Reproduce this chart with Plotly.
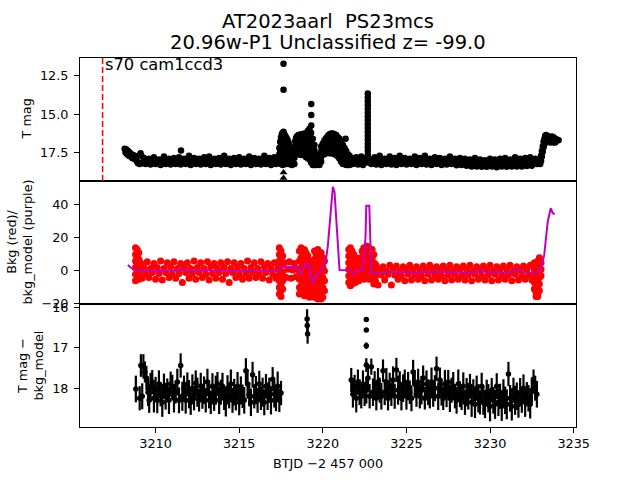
import plotly.graph_objects as go
from plotly.subplots import make_subplots

# ---------------- panel 1 : T mag ----------------
mag_t = [
    3208.15, 3208.20, 3208.25, 3208.30, 3208.35, 3208.40, 3208.45, 3208.50, 3208.55, 3208.60,
    3208.65, 3208.70, 3208.75, 3208.80, 3208.85, 3208.90, 3208.95, 3209.00, 3209.05, 3209.10,
    3209.15, 3209.20,
    3209.3, 3209.4, 3209.5, 3209.6, 3209.7, 3209.8, 3209.9, 3210.0, 3210.1, 3210.2,
    3210.3, 3210.4, 3210.5, 3210.6, 3210.7, 3210.8, 3210.9, 3211.0, 3211.1, 3211.2,
    3211.3, 3211.4, 3211.5, 3211.52, 3211.6, 3211.7, 3211.8, 3211.9, 3212.0, 3212.1,
    3212.2, 3212.3, 3212.4, 3212.5, 3212.6, 3212.7, 3212.8, 3212.9, 3213.0, 3213.1,
    3213.2, 3213.3, 3213.4, 3213.5, 3213.6, 3213.7, 3213.8, 3213.9, 3214.0, 3214.1,
    3214.2, 3214.3, 3214.4, 3214.5, 3214.6, 3214.7, 3214.8, 3214.9, 3215.0, 3215.1,
    3215.2, 3215.3, 3215.4, 3215.5, 3215.6, 3215.7, 3215.8, 3215.9, 3216.0, 3216.1,
    3216.2, 3216.3, 3216.4, 3216.5, 3216.6, 3216.7, 3216.8, 3216.9, 3217.0, 3217.1,
    3217.2, 3217.3,
    3217.40, 3217.40, 3217.40,
    3217.45, 3217.45, 3217.45, 3217.45, 3217.45,
    3217.50, 3217.50, 3217.50, 3217.50, 3217.50, 3217.50,
    3217.55, 3217.55, 3217.55, 3217.55, 3217.55, 3217.55,
    3217.60, 3217.60, 3217.60, 3217.60, 3217.60, 3217.60, 3217.60,
    3217.65, 3217.65, 3217.65, 3217.65, 3217.65, 3217.65, 3217.65, 3217.65, 3217.65,
    3217.70, 3217.70, 3217.70, 3217.70, 3217.70, 3217.70,
    3217.75, 3217.75, 3217.75, 3217.75, 3217.75, 3217.75,
    3217.80, 3217.80, 3217.80, 3217.80, 3217.80, 3217.80,
    3217.85, 3217.85, 3217.85, 3217.85, 3217.85,
    3217.90, 3217.90, 3217.90, 3217.90, 3217.90,
    3217.95, 3217.95, 3217.95, 3217.95, 3217.95,
    3218.00, 3218.00, 3218.00, 3218.00,
    3218.05, 3218.05, 3218.05, 3218.05,
    3218.10, 3218.10, 3218.10,
    3218.15, 3218.15, 3218.15,
    3218.20, 3218.20,
    3218.25, 3218.25,
    3218.30, 3218.30,
    3218.35, 3218.35, 3218.35,
    3218.40, 3218.40, 3218.40, 3218.40,
    3218.45, 3218.45, 3218.45, 3218.45,
    3218.50, 3218.50, 3218.50, 3218.50,
    3218.55, 3218.55, 3218.55, 3218.55, 3218.55,
    3218.60, 3218.60, 3218.60, 3218.60, 3218.60,
    3218.70, 3218.70, 3218.70, 3218.70, 3218.70,
    3218.80, 3218.80, 3218.80, 3218.80, 3218.80,
    3218.90, 3218.90, 3218.90, 3218.90, 3218.90,
    3219.00, 3219.00, 3219.00, 3219.00, 3219.00, 3219.00,
    3219.10, 3219.10, 3219.10, 3219.10, 3219.10, 3219.10,
    3219.20, 3219.20, 3219.20, 3219.20, 3219.20, 3219.20, 3219.20,
    3219.30, 3219.30, 3219.30, 3219.30, 3219.30, 3219.30, 3219.30,
    3219.31, 3219.31, 3219.31,
    3219.40, 3219.40, 3219.40, 3219.40, 3219.40, 3219.40,
    3219.50, 3219.50, 3219.50, 3219.50, 3219.50,
    3219.60, 3219.60, 3219.60,
    3219.70, 3219.70,
    3219.80, 3219.80,
    3219.90, 3219.90, 3219.90, 3219.90,
    3220.00, 3220.00, 3220.00,
    3220.10, 3220.10, 3220.10, 3220.10,
    3220.20, 3220.20, 3220.20, 3220.20,
    3220.30, 3220.30, 3220.30, 3220.30,
    3220.40, 3220.40, 3220.40, 3220.40, 3220.40,
    3220.50, 3220.50, 3220.50, 3220.50, 3220.50,
    3220.60, 3220.60, 3220.60, 3220.60, 3220.60,
    3220.70, 3220.70, 3220.70, 3220.70, 3220.70,
    3220.80, 3220.80, 3220.80, 3220.80, 3220.80,
    3220.90, 3220.90, 3220.90, 3220.90, 3220.90,
    3221.00, 3221.00, 3221.00, 3221.00, 3221.00,
    3221.10, 3221.10, 3221.10, 3221.10, 3221.10,
    3221.20, 3221.20, 3221.20, 3221.20, 3221.20,
    3221.30, 3221.30, 3221.30, 3221.30,
    3221.36,
    3221.40, 3221.40, 3221.40, 3221.40,
    3221.50, 3221.50, 3221.50,
    3221.60, 3221.60, 3221.60,
    3221.7, 3221.8, 3221.9, 3222.0, 3222.1, 3222.2, 3222.3, 3222.4, 3222.5, 3222.6,
    3222.69, 3222.69, 3222.69, 3222.69, 3222.69, 3222.69, 3222.69, 3222.69, 3222.69, 3222.69,
    3222.69, 3222.69, 3222.69, 3222.69, 3222.69, 3222.69, 3222.69, 3222.69, 3222.69,
    3222.8, 3222.9, 3223.0, 3223.1, 3223.2, 3223.3, 3223.4, 3223.5, 3223.6, 3223.7,
    3223.8, 3223.9, 3224.0, 3224.1, 3224.2, 3224.3, 3224.4, 3224.5, 3224.6, 3224.7,
    3224.8, 3224.9, 3225.0, 3225.1, 3225.2, 3225.3, 3225.4, 3225.5, 3225.6, 3225.7,
    3225.8, 3225.9, 3226.0, 3226.1, 3226.2, 3226.3, 3226.4, 3226.5, 3226.6, 3226.7,
    3226.8, 3226.9, 3227.0, 3227.1, 3227.2, 3227.3, 3227.4, 3227.5, 3227.6, 3227.7,
    3227.8, 3227.9, 3228.0, 3228.1, 3228.2, 3228.3, 3228.4, 3228.5, 3228.6, 3228.7,
    3228.8, 3228.9, 3229.0, 3229.1, 3229.2, 3229.3, 3229.4, 3229.5, 3229.6, 3229.7,
    3229.8, 3229.9, 3230.0, 3230.1, 3230.2, 3230.3, 3230.4, 3230.5, 3230.6, 3230.7,
    3230.8, 3230.9, 3231.0, 3231.1, 3231.2, 3231.3, 3231.4, 3231.5, 3231.6, 3231.7,
    3231.8, 3231.9, 3232.0, 3232.1, 3232.2, 3232.3, 3232.4, 3232.5, 3232.6, 3232.7,
    3232.8, 3232.9,
    3233.00, 3233.00, 3233.05, 3233.05, 3233.10, 3233.10, 3233.15, 3233.15, 3233.20, 3233.20,
    3233.25, 3233.25, 3233.30, 3233.30, 3233.35, 3233.35, 3233.40, 3233.40, 3233.50, 3233.50,
    3233.60, 3233.60, 3233.70, 3233.70, 3233.80, 3233.80, 3233.90, 3233.90, 3234.00, 3234.10,
]
mag = [
    17.25, 17.50, 17.30, 17.60, 17.40, 17.70, 17.50, 17.75, 17.60, 17.85,
    17.65, 17.90, 17.70, 17.95, 17.75, 18.10, 18.20, 18.15, 18.25, 17.55,
    17.70, 18.20,
    17.85, 18.25, 18.05, 17.90, 18.28, 18.05, 17.80, 18.25, 18.05, 17.95,
    18.30, 18.05, 17.75, 18.25, 18.05, 17.90, 18.28, 18.05, 17.85, 18.25,
    18.05, 17.80, 18.28, 17.36, 18.05, 17.90, 18.25, 18.05, 17.70, 18.30,
    18.05, 17.85, 18.25, 18.05, 17.90, 18.28, 18.05, 17.80, 18.25, 18.05,
    17.75, 18.30, 18.05, 17.90, 18.25, 18.05, 17.85, 18.28, 18.05, 17.70,
    18.25, 18.05, 17.90, 18.30, 18.05, 17.85, 18.25, 18.05, 17.80, 18.28,
    18.05, 17.90, 18.25, 18.05, 17.75, 18.30, 18.05, 17.85, 18.25, 18.05,
    17.90, 18.28, 18.05, 17.70, 18.25, 18.05, 17.85, 18.30, 18.05, 17.80,
    18.25, 18.05,
    17.20, 17.60, 18.00,
    16.80, 17.15, 17.50, 17.85, 18.20,
    16.50, 16.85, 17.20, 17.55, 17.90, 18.25,
    16.30, 16.65, 17.00, 17.35, 17.70, 18.05,
    16.20, 16.55, 16.90, 17.25, 17.60, 17.95, 18.30,
    16.15, 16.50, 16.85, 17.20, 17.55, 17.90, 18.25, 11.72, 13.40,
    16.30, 16.65, 17.00, 17.35, 17.70, 18.05,
    16.40, 16.75, 17.10, 17.45, 17.80, 18.15,
    16.50, 16.85, 17.20, 17.55, 17.90, 18.25,
    16.60, 16.95, 17.30, 17.65, 18.00,
    16.70, 17.05, 17.40, 17.75, 18.10,
    16.85, 17.20, 17.55, 17.90, 18.25,
    17.00, 17.35, 17.70, 18.05,
    17.20, 17.55, 17.90, 18.25,
    17.40, 17.75, 18.10,
    17.60, 17.95, 18.30,
    17.75, 18.10,
    17.80, 18.20,
    17.85, 18.25,
    16.75, 17.10, 17.40,
    16.55, 16.90, 17.25, 17.50,
    16.45, 16.80, 17.15, 17.50,
    16.40, 16.75, 17.10, 17.45,
    16.35, 16.70, 17.05, 17.40, 17.60,
    16.35, 16.70, 17.05, 17.40, 17.60,
    16.30, 16.65, 17.00, 17.35, 17.65,
    16.30, 16.65, 17.00, 17.35, 17.65,
    16.25, 16.60, 16.95, 17.30, 17.65,
    16.25, 16.60, 16.95, 17.30, 17.65, 17.80,
    16.10, 16.45, 16.80, 17.15, 17.50, 17.85,
    15.95, 16.30, 16.65, 17.00, 17.35, 17.70, 17.95,
    16.20, 16.55, 16.90, 17.25, 17.60, 17.95, 18.15,
    14.33, 15.05, 15.74,
    16.60, 16.95, 17.30, 17.65, 18.00, 18.30,
    17.00, 17.35, 17.70, 18.05, 18.30,
    17.60, 17.95, 18.30,
    17.95, 18.25,
    18.00, 18.30,
    17.10, 17.45, 17.80, 18.10,
    16.90, 17.25, 17.55,
    16.70, 17.05, 17.40, 17.60,
    16.55, 16.90, 17.25, 17.55,
    16.40, 16.75, 17.10, 17.50,
    16.30, 16.65, 17.00, 17.35, 17.55,
    16.25, 16.60, 16.95, 17.30, 17.55,
    16.25, 16.60, 16.95, 17.30, 17.55,
    16.30, 16.65, 17.00, 17.35, 17.60,
    16.35, 16.70, 17.05, 17.40, 17.65,
    16.50, 16.85, 17.20, 17.55, 17.75,
    16.60, 16.95, 17.30, 17.65, 17.90,
    16.80, 17.15, 17.50, 17.85, 18.10,
    17.00, 17.35, 17.70, 18.05, 18.25,
    17.20, 17.55, 17.90, 18.25,
    16.60,
    17.40, 17.75, 18.10, 18.30,
    17.60, 17.95, 18.30,
    17.70, 18.05, 18.30,
    17.85, 18.25, 18.05, 17.80, 18.28, 18.05, 17.75, 18.30, 18.05, 17.85,
    13.65, 13.90, 14.15, 14.40, 14.65, 14.90, 15.15, 15.40, 15.65, 15.90,
    16.15, 16.40, 16.65, 16.90, 17.15, 17.40, 17.65, 17.90, 18.15,
    17.90, 18.25, 18.05, 17.80, 18.28, 18.05, 17.70, 18.30, 18.05, 17.90,
    18.25, 18.05, 17.75, 18.28, 18.05, 17.85, 18.30, 18.05, 17.70, 18.25,
    18.05, 17.85, 18.28, 18.05, 17.90, 18.25, 18.05, 17.75, 18.30, 18.05,
    17.85, 18.25, 18.05, 17.70, 18.28, 18.05, 17.90, 18.30, 18.05, 17.80,
    18.25, 18.05, 17.85, 18.30, 18.05, 17.90, 18.28, 18.05, 17.75, 18.25,
    18.08, 17.90, 18.32, 18.08, 17.85, 18.30, 18.10, 17.90, 18.35, 18.10,
    17.95, 18.40, 18.15, 17.85, 18.40, 18.15, 17.95, 18.42, 18.15, 18.00,
    18.42, 18.15, 17.90, 18.40, 18.15, 17.95, 18.45, 18.15, 17.90, 18.40,
    18.15, 17.85, 18.42, 18.15, 17.95, 18.40, 18.15, 17.80, 18.40, 18.15,
    17.90, 18.40, 18.15, 17.85, 18.38, 18.15, 17.80, 18.35, 18.10, 17.90,
    18.25, 18.05,
    17.90, 18.25, 17.70, 18.05, 17.40, 17.75, 17.10, 17.45, 16.80, 17.15,
    16.60, 16.95, 16.40, 16.75, 16.35, 16.70, 16.40, 16.75, 16.45, 16.80,
    16.50, 16.85, 16.45, 16.80, 16.50, 16.85, 16.60, 16.85, 16.65, 16.70,
]
lim_t = [3217.65, 3217.65]
lim_mag = [18.80, 19.15]
sector_start = 3206.83
sector_label = "s70 cam1ccd3"

# ---------------- panel 2 : background ----------------
bkg_t = [
    3208.80, 3208.80, 3208.80, 3208.80, 3208.80, 3208.80,
    3208.90, 3208.90, 3208.90, 3208.90, 3208.90,
    3209.00, 3209.00, 3209.00, 3209.00, 3209.00,
    3209.1, 3209.2, 3209.3, 3209.4, 3209.5, 3209.6, 3209.7, 3209.8, 3209.9, 3210.0,
    3210.1, 3210.2, 3210.3, 3210.4, 3210.5, 3210.6, 3210.7, 3210.8, 3210.9, 3211.0,
    3211.1, 3211.2, 3211.3, 3211.4, 3211.5, 3211.6, 3211.7, 3211.8, 3211.9, 3212.0,
    3212.1, 3212.2, 3212.3, 3212.4, 3212.5, 3212.6, 3212.7, 3212.8, 3212.9, 3213.0,
    3213.1, 3213.2, 3213.3, 3213.4, 3213.5, 3213.6, 3213.7, 3213.8, 3213.9, 3214.0,
    3214.1, 3214.2, 3214.3, 3214.4, 3214.5, 3214.6, 3214.7, 3214.8, 3214.9, 3215.0,
    3215.1, 3215.2, 3215.3, 3215.4, 3215.5, 3215.6, 3215.7, 3215.8, 3215.9, 3216.0,
    3216.1, 3216.2, 3216.3, 3216.4, 3216.5, 3216.6, 3216.7, 3216.8, 3216.9, 3217.0,
    3217.1, 3217.2, 3217.3,
    3217.40, 3217.40, 3217.40, 3217.40, 3217.40, 3217.40, 3217.40, 3217.40,
    3217.50, 3217.50, 3217.50, 3217.50, 3217.50, 3217.50, 3217.50, 3217.50,
    3217.60, 3217.60, 3217.60, 3217.60, 3217.60,
    3217.7, 3217.8, 3217.9, 3218.0, 3218.1, 3218.2, 3218.3, 3218.4, 3218.5,
    3218.6, 3218.6, 3218.6, 3218.6, 3218.6, 3218.6,
    3218.7, 3218.7, 3218.7, 3218.7, 3218.7, 3218.7,
    3218.8, 3218.8, 3218.8, 3218.8, 3218.8,
    3218.9, 3218.9, 3218.9, 3218.9, 3218.9, 3218.9,
    3219.0, 3219.0, 3219.0, 3219.0, 3219.0,
    3219.1, 3219.1, 3219.1, 3219.1, 3219.1,
    3219.2, 3219.2, 3219.2, 3219.2, 3219.2,
    3219.3, 3219.3, 3219.3, 3219.3,
    3219.4, 3219.4, 3219.4, 3219.4,
    3219.5, 3219.5, 3219.5, 3219.5, 3219.5, 3219.5,
    3219.6, 3219.6, 3219.6, 3219.6, 3219.6,
    3219.7, 3219.7, 3219.7, 3219.7, 3219.7, 3219.7,
    3219.8, 3219.8, 3219.8, 3219.8, 3219.8,
    3219.9, 3219.9, 3219.9, 3219.9, 3219.9, 3219.9,
    3220.0, 3220.0, 3220.0, 3220.0, 3220.0,
    3220.1, 3220.1, 3220.1, 3220.1,
    3221.55, 3221.55, 3221.55, 3221.55, 3221.55, 3221.55,
    3221.65, 3221.65, 3221.65, 3221.65, 3221.65, 3221.65, 3221.65,
    3221.75, 3221.75, 3221.75, 3221.75, 3221.75, 3221.75,
    3221.85, 3221.85, 3221.85, 3221.85, 3221.85,
    3221.95, 3221.95, 3221.95, 3221.95, 3221.95,
    3222.05, 3222.05, 3222.05, 3222.05,
    3222.15, 3222.15, 3222.15, 3222.15,
    3222.25, 3222.25, 3222.25, 3222.25,
    3222.35, 3222.35, 3222.35, 3222.35,
    3222.45, 3222.45, 3222.45, 3222.45, 3222.45,
    3222.55, 3222.55, 3222.55, 3222.55,
    3222.65, 3222.65, 3222.65, 3222.65, 3222.65,
    3222.75, 3222.75, 3222.75, 3222.75, 3222.75,
    3222.85, 3222.85, 3222.85, 3222.85,
    3222.95, 3222.95, 3222.95, 3222.95, 3222.95,
    3223.05, 3223.05, 3223.05, 3223.05, 3223.05,
    3223.15, 3223.15, 3223.15, 3223.15,
    3223.2, 3223.3, 3223.4, 3223.5, 3223.6, 3223.7, 3223.8, 3223.9, 3224.0, 3224.1,
    3224.2, 3224.3, 3224.4, 3224.5, 3224.6, 3224.7, 3224.8, 3224.9, 3225.0, 3225.1,
    3225.2, 3225.3, 3225.4, 3225.5, 3225.6, 3225.7, 3225.8, 3225.9, 3226.0, 3226.1,
    3226.2, 3226.3, 3226.4, 3226.5, 3226.6, 3226.7, 3226.8, 3226.9, 3227.0, 3227.1,
    3227.2, 3227.3, 3227.4, 3227.5, 3227.6, 3227.7, 3227.8, 3227.9, 3228.0, 3228.1,
    3228.2, 3228.3, 3228.4, 3228.5, 3228.6, 3228.7, 3228.8, 3228.9, 3229.0, 3229.1,
    3229.2, 3229.3, 3229.4, 3229.5, 3229.6, 3229.7, 3229.8, 3229.9, 3230.0, 3230.1,
    3230.2, 3230.3, 3230.4, 3230.5, 3230.6, 3230.7, 3230.8, 3230.9, 3231.0, 3231.1,
    3231.2, 3231.3, 3231.4, 3231.5, 3231.6, 3231.7, 3231.8, 3231.9, 3232.0, 3232.1,
    3232.2, 3232.3, 3232.4, 3232.5,
    3232.65, 3232.65, 3232.65, 3232.65, 3232.65,
    3232.75, 3232.75, 3232.75, 3232.75, 3232.75, 3232.75,
    3232.85, 3232.85, 3232.85, 3232.85, 3232.85, 3232.85, 3232.85,
    3232.95, 3232.95, 3232.95, 3232.95, 3232.95, 3232.95,
    3233.05, 3233.05, 3233.05,
]
bkg = [
    14, 10, 6, 2, -2, -6,
    13, 9, 5, 1, -3,
    11, 7, 3, -1, -5,
    5.0, -4.5, 2.0, -1.5, 5.5, -4.0, 1.5, -1.0, 4.5, -5.0,
    2.0, -1.5, 6.0, -5.5, 1.5, -1.0, 5.0, -4.0, 2.5, -2.0,
    5.5, -4.5, 1.5, -1.5, 4.5, -7.0, 2.0, -1.0, 5.0, -4.5,
    1.5, -1.5, 6.0, -5.0, 2.0, -1.0, 5.0, -4.0, 1.5, -2.0,
    5.5, -5.5, 2.5, -1.5, 4.5, -4.5, 1.5, -1.0, 5.0, -5.0,
    2.0, -1.5, 5.5, -7.0, 1.5, -1.0, 5.0, -4.0, 2.0, -2.0,
    4.5, -5.0, 1.5, -1.5, 6.0, -4.5, 2.0, -1.0, 5.0, -4.0,
    1.5, -1.5, 5.5, -4.5, 2.5, -1.0, 4.5, -5.5, 1.5, -2.0,
    5.0, -4.5, 1.5,
    14, 10, 6, 2, -2, -6, -10, -14,
    12, 8, 4, 0, -4, -8, -12, -15.5,
    9, 4, -1, -6, -11,
    5.0, -4.0, 1.0, 5.5, -4.5, 0.5, 4.5, -3.5, 1.0,
    12, 6, 0, -5, -10, -14,
    14, 8, 2, -4, -9, -13,
    10, 4, -2, -8, -14,
    13, 7, 1, -5, -11, -15,
    11, 5, -1, -7, -12,
    9, 3, -3, -9, -14,
    6, 0, -6, -12, -16,
    4, -2, -8, -13,
    2, -4, -10, -15,
    12, 7, 1, -5, -11, -16,
    10, 4, -2, -8, -14,
    13, 7, 1, -5, -12, -17,
    9, 3, -3, -9, -15,
    11, 5, -1, -7, -13, -17,
    8, 2, -4, -10, -16,
    6, 0, -6, -12,
    13, 9, 5, 1, -3, -7,
    14, 10, 6, 2, -2, -6, -9,
    12, 8, 4, 0, -4, -8,
    10, 6, 2, -2, -6,
    8, 4, 0, -4, -7,
    6, 2, -2, -5,
    5, 1, -3, -6,
    8, 4, 0, -4,
    12, 7, 2, -3,
    14, 9, 4, -1, -5,
    13, 8, 3, -2,
    15, 10, 5, 0, -4,
    14, 9, 4, -1, -5,
    12, 7, 2, -3,
    13, 8, 3, -2, -5,
    10, 5, 0, -4, -8,
    4, 0, -3, -6,
    3.0, -8.5, 0.5, -2.5, 2.5, -5.5, 0.0, -2.0, 3.5, -8.5,
    0.5, -2.5, 3.0, -5.0, 0.0, -3.0, 2.5, -6.0, 1.0, -2.0,
    3.5, -5.5, 0.5, -2.5, 2.5, -5.0, 0.0, -3.0, 3.0, -6.0,
    0.5, -2.0, 3.5, -5.5, 1.0, -2.5, 2.5, -5.0, 0.0, -3.0,
    3.0, -6.0, 0.5, -2.5, 3.5, -5.5, 0.0, -2.0, 2.5, -5.0,
    1.0, -3.0, 3.0, -5.5, 0.5, -2.5, 3.5, -6.0, 0.0, -2.0,
    2.5, -5.0, 0.5, -3.0, 3.0, -5.5, 1.0, -2.5, 3.5, -6.0,
    0.0, -2.0, 2.5, -5.5, 0.5, -3.0, 3.0, -5.0, 1.0, -2.5,
    3.5, -6.0, 0.0, -2.0, 2.5, -5.5, 0.5, -3.0, 3.0, -5.0,
    1.0, -2.5, 3.5, -5.5,
    5, 1, -3, -7, -11,
    3, -1, -5, -9, -13, -15.5,
    6, 2, -2, -6, -10, -14, -15.5,
    8, 4, 0, -4, -8, -12,
    5, 1, -3,
]
model_t = [
    3208.34, 3208.50, 3208.70, 3208.90, 3209.50, 3210.00, 3210.50, 3211.00, 3211.50, 3212.00,
    3212.50, 3213.00, 3213.50, 3214.00, 3214.50, 3215.00, 3215.50, 3216.00, 3216.50, 3217.00,
    3217.30, 3217.40, 3217.50, 3218.40, 3218.55, 3218.65, 3218.75, 3218.90, 3219.10, 3219.20,
    3219.35, 3219.50, 3219.75, 3220.00, 3220.15, 3220.30, 3220.40, 3220.48, 3220.60, 3220.70,
    3220.80, 3220.90, 3221.00, 3221.60, 3221.75, 3221.85, 3222.00, 3222.40, 3222.55, 3222.60,
    3222.78, 3222.85, 3222.90, 3223.50, 3224.00, 3224.50, 3225.00, 3225.50, 3226.00, 3226.50,
    3227.00, 3227.50, 3228.00, 3228.50, 3229.00, 3229.50, 3230.00, 3230.50, 3231.00, 3231.50,
    3231.70, 3232.00, 3232.50, 3232.90, 3233.05, 3233.24, 3233.45, 3233.63, 3233.75, 3233.87,
]
model = [
    3.6, 2.5, 0.6, 0.0, 0.3, -0.2, 0.4, 0.0, 0.5, -0.1,
    0.3, 0.6, 0.0, 0.4, -0.2, 0.3, 0.0, 0.4, 0.1, 0.3,
    0.0, 1.0, 2.4, 2.6, 0.5, -2.0, -0.5, 3.5, 5.0, 3.5,
    -7.0, -4.5, -1.0, 2.0, 4.0, 15.0, 28.0, 40.0, 51.0, 48.0,
    30.0, 12.0, 0.6, 0.4, -0.6, -1.8, 0.0, 0.3, 20.0, 39.5,
    39.5, 10.0, -1.4, -1.0, -0.5, -1.0, -0.6, -1.2, -0.5, -1.0,
    -0.4, -1.0, -0.6, -1.2, -0.8, -0.3, -1.0, -0.6, -1.2, -0.2,
    0.5, -0.8, -1.0, -0.5, 1.0, 9.7, 30.0, 38.0, 35.0, 34.5,
]

# ---------------- panel 3 : T mag - bkg_model ----------------
diff_t = [
    3208.82, 3209.05, 3209.12, 3209.20, 3209.27, 3209.36, 3209.45, 3209.55, 3209.62, 3209.70,
    3209.8, 3209.9, 3210.0, 3210.1, 3210.2, 3210.3, 3210.4, 3210.5, 3210.6, 3210.7,
    3210.8, 3210.9, 3211.0, 3211.1, 3211.2, 3211.3, 3211.4, 3211.5, 3211.6, 3211.7,
    3211.8, 3211.9, 3212.0, 3212.1, 3212.2, 3212.3, 3212.4, 3212.5, 3212.6, 3212.7,
    3212.8, 3212.9, 3213.0, 3213.1, 3213.2, 3213.3, 3213.4, 3213.5, 3213.6, 3213.7,
    3213.8, 3213.9, 3214.0, 3214.1, 3214.2, 3214.3, 3214.4, 3214.5, 3214.6, 3214.7,
    3214.8, 3214.9, 3215.0, 3215.1, 3215.2, 3215.3, 3215.4, 3215.5, 3215.6, 3215.7,
    3215.8, 3215.9, 3216.0, 3216.1, 3216.2, 3216.3, 3216.4, 3216.5, 3216.6, 3216.7,
    3216.8, 3216.9, 3217.0, 3217.1, 3217.2, 3217.3, 3217.4, 3217.5,
    3219.06, 3219.07, 3219.09,
    3222.60, 3222.60, 3222.60, 3222.60,
    3221.7, 3221.8, 3221.9, 3222.0, 3222.1, 3222.2, 3222.3, 3222.4, 3222.5, 3222.6,
    3222.7, 3222.8, 3222.9, 3223.0, 3223.1, 3223.2, 3223.3, 3223.4, 3223.5, 3223.6,
    3223.7, 3223.8, 3223.9, 3224.0, 3224.1, 3224.2, 3224.3, 3224.4, 3224.5, 3224.6,
    3224.7, 3224.8, 3224.9, 3225.0, 3225.1, 3225.2, 3225.3, 3225.4, 3225.5, 3225.6,
    3225.7, 3225.8, 3225.9, 3226.0, 3226.1, 3226.2, 3226.3, 3226.4, 3226.5, 3226.6,
    3226.7, 3226.8, 3226.9, 3227.0, 3227.1, 3227.2, 3227.3, 3227.4, 3227.5, 3227.6,
    3227.7, 3227.8, 3227.9, 3228.0, 3228.1, 3228.2, 3228.3, 3228.4, 3228.5, 3228.6,
    3228.7, 3228.8, 3228.9, 3229.0, 3229.1, 3229.2, 3229.3, 3229.4, 3229.5, 3229.6,
    3229.7, 3229.8, 3229.9, 3230.0, 3230.1, 3230.2, 3230.3, 3230.4, 3230.5, 3230.6,
    3230.7, 3230.8, 3230.9, 3231.0, 3231.1, 3231.2, 3231.3, 3231.4, 3231.5, 3231.6,
    3231.7, 3231.8, 3231.9, 3232.0, 3232.1, 3232.2, 3232.3, 3232.4, 3232.5, 3232.6,
    3232.7, 3232.8,
]
diff = [
    18.02, 18.25, 17.44, 18.20, 17.46, 17.60, 17.75, 18.10, 18.30, 17.95,
    17.85, 18.25, 18.00, 18.30, 17.90, 18.15, 18.35, 17.95, 18.20, 18.05,
    18.30, 17.90, 17.97, 18.25, 18.10, 17.85, 18.30, 17.44, 18.20, 18.00,
    18.30, 17.90, 18.15, 18.35, 18.00, 18.25, 17.88, 18.10, 18.30, 17.95,
    18.20, 18.05, 18.30, 17.85, 18.15, 18.35, 17.95, 18.25, 18.05, 17.90,
    18.30, 18.10, 17.95, 18.25, 18.35, 18.00, 18.20, 17.90, 18.30, 18.10,
    18.25, 17.95, 18.35, 18.05, 18.20, 18.30, 17.57, 17.90, 18.15, 18.35,
    17.67, 18.20, 18.05, 18.30, 17.90, 18.25, 18.10, 18.35, 17.95, 18.20,
    18.05, 18.30, 17.78, 18.15, 18.25, 17.95, 18.30, 18.12,
    16.29, 16.45, 16.66,
    16.30, 16.56, 16.95, 17.43,
    17.80, 18.15, 17.95, 18.25, 17.85, 18.10, 18.20, 17.90, 18.15, 18.05,
    17.75, 18.20, 17.47, 18.10, 17.90, 18.25, 17.85, 18.05, 18.20, 17.57,
    18.10, 17.85, 18.25, 17.95, 18.15, 17.80, 18.20, 17.55, 18.05, 17.90,
    18.25, 18.00, 17.85, 18.20, 17.95, 18.10, 18.25, 17.60, 17.90, 18.15,
    17.85, 18.20, 18.05, 17.75, 18.25, 17.90, 18.10, 18.20, 17.85, 18.15,
    18.00, 17.52, 18.20, 17.80, 18.10, 18.25, 17.90, 18.15, 17.85, 18.25,
    18.05, 17.95, 18.20, 18.30, 17.90, 18.15, 18.25, 17.95, 18.35, 18.10,
    18.20, 17.95, 18.35, 18.10, 18.40, 18.00, 18.25, 18.35, 17.95, 18.30,
    18.40, 18.10, 18.25, 18.45, 18.05, 18.30, 18.40, 17.95, 18.35, 18.20,
    18.45, 18.10, 18.30, 18.40, 17.65, 18.25, 18.45, 18.05, 18.30, 18.20,
    18.40, 18.10, 18.30, 18.00, 18.35, 18.15, 18.25, 18.40, 18.05, 17.84,
    18.00, 18.15,
]
diff_err = [
    0.33, 0.30, 0.28, 0.32, 0.30, 0.26, 0.30, 0.34, 0.31, 0.33,
    0.30, 0.35, 0.28, 0.32, 0.34, 0.30, 0.36, 0.31, 0.33, 0.29,
    0.34, 0.31, 0.30, 0.35, 0.28, 0.33, 0.32, 0.30, 0.36, 0.31,
    0.33, 0.29, 0.35, 0.31, 0.34, 0.30, 0.32, 0.36, 0.28, 0.33,
    0.31, 0.34, 0.30, 0.33, 0.35, 0.29, 0.32, 0.31, 0.36, 0.30,
    0.34, 0.31, 0.33, 0.29, 0.35, 0.32, 0.30, 0.36, 0.31, 0.33,
    0.30, 0.35, 0.32, 0.34, 0.29, 0.33, 0.31, 0.36, 0.30, 0.34,
    0.32, 0.30, 0.35, 0.31, 0.33, 0.29, 0.36, 0.32, 0.30, 0.34,
    0.31, 0.35, 0.30, 0.33, 0.32, 0.36, 0.29, 0.30,
    0.24, 0.20, 0.24,
    0.04, 0.04, 0.08, 0.17,
    0.30, 0.33, 0.28, 0.35, 0.31, 0.32, 0.30, 0.34, 0.29, 0.33,
    0.31, 0.30, 0.20, 0.34, 0.32, 0.30, 0.35, 0.31, 0.33, 0.28,
    0.32, 0.35, 0.30, 0.33, 0.29, 0.34, 0.31, 0.30, 0.36, 0.32,
    0.30, 0.34, 0.31, 0.33, 0.35, 0.29, 0.32, 0.30, 0.34, 0.31,
    0.33, 0.30, 0.35, 0.31, 0.28, 0.34, 0.32, 0.30, 0.36, 0.31,
    0.32, 0.30, 0.34, 0.31, 0.33, 0.29, 0.35, 0.32, 0.30, 0.34,
    0.31, 0.35, 0.30, 0.33, 0.36, 0.32, 0.29, 0.34, 0.31, 0.35,
    0.33, 0.30, 0.36, 0.32, 0.34, 0.31, 0.35, 0.30, 0.33, 0.36,
    0.34, 0.31, 0.35, 0.37, 0.30, 0.33, 0.36, 0.32, 0.34, 0.31,
    0.36, 0.32, 0.34, 0.37, 0.30, 0.33, 0.35, 0.31, 0.36, 0.34,
    0.33, 0.35, 0.31, 0.34, 0.36, 0.30, 0.33, 0.35, 0.32, 0.30,
    0.31, 0.33,
]

x_range = [3205.48, 3235.14]
x_ticks = [3210, 3215, 3220, 3225, 3230, 3235]
mag_range = [19.35, 11.34]
mag_ticks = [12.5, 15.0, 17.5]
bkg_range = [-20.05, 54.5]
bkg_ticks = [-20, 0, 20, 40]
diff_range = [18.96, 15.92]
diff_ticks = [16, 17, 18]

assert len(mag_t) == len(mag), (len(mag_t), len(mag))
assert len(bkg_t) == len(bkg), (len(bkg_t), len(bkg))
assert len(model_t) == len(model)
assert len(diff_t) == len(diff) == len(diff_err), (len(diff_t), len(diff), len(diff_err))

FONT = "DejaVu Sans"
fig = make_subplots(rows=3, cols=1, shared_xaxes=True, vertical_spacing=0)

fig.add_trace(go.Scatter(x=mag_t, y=mag, mode="markers",
                         marker=dict(color="black", size=6.5)), row=1, col=1)
fig.add_trace(go.Scatter(x=lim_t, y=lim_mag, mode="markers",
                         marker=dict(color="black", size=7, symbol="triangle-up")), row=1, col=1)
fig.add_trace(go.Scatter(x=bkg_t, y=bkg, mode="markers",
                         marker=dict(color="red", size=7)), row=2, col=1)
fig.add_trace(go.Scatter(x=model_t, y=model, mode="lines",
                         line=dict(color="#bf00bf", width=2)), row=2, col=1)
fig.add_trace(go.Scatter(x=diff_t, y=diff, mode="markers",
                         marker=dict(color="black", size=5.5),
                         error_y=dict(type="data", array=diff_err, visible=True,
                                      color="black", thickness=2.2, width=0)), row=3, col=1)

fig.add_shape(type="line", xref="x", yref="y domain", x0=sector_start, x1=sector_start,
              y0=0, y1=1, line=dict(color="red", width=1.5, dash="6px,3px"))

axis_common = dict(showline=True, mirror=True, linecolor="black", linewidth=1,
                   showgrid=False, zeroline=False)
fig.update_xaxes(range=x_range, **axis_common)
fig.update_xaxes(ticks="", showticklabels=False, row=1, col=1)
fig.update_xaxes(ticks="", showticklabels=False, row=2, col=1)
fig.update_xaxes(ticks="outside", ticklen=5, tickwidth=1, tickcolor="black",
                 tickvals=x_ticks, tickfont=dict(size=12.8, family=FONT, color="black"),
                 row=3, col=1)
ytick = dict(ticks="outside", ticklen=5, tickwidth=1, tickcolor="black",
             tickfont=dict(size=12.8, family=FONT, color="black"), ticklabelstandoff=3)
fig.update_yaxes(range=mag_range, tickvals=mag_ticks,
                 ticktext=["%.1f" % v for v in mag_ticks], row=1, col=1, **axis_common, **ytick)
fig.update_yaxes(range=bkg_range, tickvals=bkg_ticks, row=2, col=1, **axis_common, **ytick)
fig.update_yaxes(range=diff_range, tickvals=diff_ticks, row=3, col=1, **axis_common, **ytick)

PLOT_W, PLOT_H, ML, MT, MB = 496, 369, 80, 58, 53


def px_x(px):
    return (px - ML) / PLOT_W


def px_y(py):
    return (480 - MB - py) / PLOT_H


ann = []
ann.append(dict(text="AT2023aarl\u00a0 PS23mcs", x=0.5, y=px_y(21.5), xref="paper", yref="paper",
                showarrow=False, xanchor="center", yanchor="middle",
                font=dict(size=19.5, family=FONT, color="black")))
ann.append(dict(text="20.96w-P1 Unclassified z= -99.0", x=0.5, y=px_y(42.5), xref="paper",
                yref="paper", showarrow=False, xanchor="center", yanchor="middle",
                font=dict(size=19.5, family=FONT, color="black")))
ann.append(dict(text=sector_label, x=sector_start, xref="x", y=px_y(64.5), yref="paper",
                showarrow=False, xanchor="left", yanchor="middle", xshift=0,
                font=dict(size=16.3, family=FONT, color="black")))
ann.append(dict(text="BTJD \u22122 457 000", x=0.5, y=px_y(463.5), xref="paper", yref="paper",
                showarrow=False, xanchor="center", yanchor="middle",
                font=dict(size=12.8, family=FONT, color="black")))
ann.append(dict(text="T mag", x=px_x(26), y=px_y(119.5), xref="paper", yref="paper",
                showarrow=False, textangle=-90, xanchor="center", yanchor="middle",
                font=dict(size=12.8, family=FONT, color="black")))
ann.append(dict(text="Bkg (red)/<br>bkg_model (purple)", x=px_x(19), y=px_y(242.5),
                xref="paper", yref="paper", showarrow=False, textangle=-90,
                xanchor="center", yanchor="middle",
                font=dict(size=12.8, family=FONT, color="black")))
ann.append(dict(text="T mag \u2212<br>bkg_model", x=px_x(30), y=px_y(365.5),
                xref="paper", yref="paper", showarrow=False, textangle=-90,
                xanchor="center", yanchor="middle",
                font=dict(size=12.8, family=FONT, color="black")))

fig.update_layout(width=640, height=480, margin=dict(l=ML, r=64, t=MT, b=MB),
                  paper_bgcolor="white", plot_bgcolor="white", showlegend=False,
                  font=dict(family=FONT, color="black"), annotations=ann)

fig.write_html("out.html", config={"displayModeBar": False},
               post_script="document.body.style.margin='0px';document.body.style.padding='0px';")
